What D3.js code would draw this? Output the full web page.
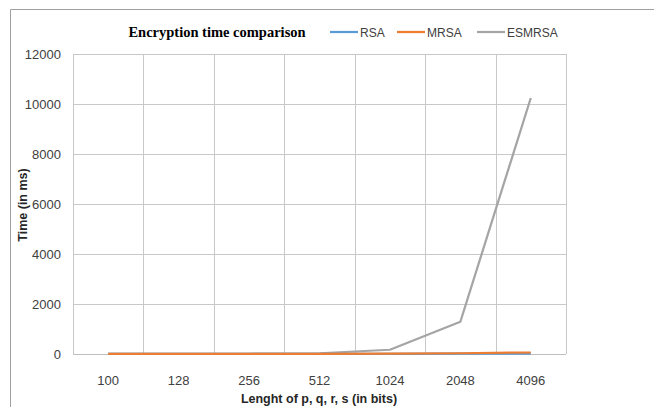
<!DOCTYPE html>
<html><head><meta charset="utf-8">
<script src="https://cdn.jsdelivr.net/npm/d3@7"></script>
<style>body{margin:0;background:#fff}svg{display:block}</style>
</head><body>
<script>
const categories = ["100","128","256","512","1024","2048","4096"];
const rsa = [1, 1, 2, 4, 8, 15, 20];
const mrsa = [1, 2, 3, 6, 15, 30, 60];
const esmrsa = [2, 4, 10, 30, 170, 1290, 10240];
const yTicks = [0,2000,4000,6000,8000,10000,12000];
const seriesNames = ["RSA","MRSA","ESMRSA"];
const colors = ["#5b9bd5","#ed7d31","#a5a5a5"];

const W=654,H=407;
const svg=d3.select("body").append("svg").attr("width",W).attr("height",H);
// outer frame
svg.append("line").attr("x1",10.5).attr("x2",W).attr("y1",9.5).attr("y2",9.5).attr("stroke","#a0a0a0");
svg.append("line").attr("x1",10.5).attr("x2",10.5).attr("y1",9.5).attr("y2",H).attr("stroke","#a0a0a0");

const L=73,R=566,T=54,B=354;
const x=d3.scaleBand().domain(categories).range([L,R]).padding(0);
const y=d3.scaleLinear().domain([0,12000]).range([B,T]);
const g=svg.append("g");
// horizontal grid
g.selectAll(".hg").data(yTicks).join("line")
 .attr("x1",L).attr("x2",R).attr("y1",d=>Math.round(y(d))+0.5).attr("y2",d=>Math.round(y(d))+0.5)
 .attr("stroke",d=>d===0?"#bfbfbf":"#c8c8c8").attr("stroke-width",1);
// vertical grid at boundaries
const bounds=categories.map(c=>x(c)).concat([R]);
g.selectAll(".vg").data(bounds).join("line")
 .attr("x1",d=>Math.round(d)+0.5).attr("x2",d=>Math.round(d)+0.5).attr("y1",T).attr("y2",B)
 .attr("stroke","#c8c8c8");
// y axis labels
const ya=d3.axisLeft(y).tickValues(yTicks).tickSize(0).tickPadding(12).tickFormat(d3.format("d"));
const yg=svg.append("g").attr("transform",`translate(${L},0)`).call(ya);
yg.select(".domain").remove();
yg.selectAll("text").attr("font-family","Liberation Sans, Arial").attr("font-size","13px").attr("fill","#404040");
// x axis labels
const xa=d3.axisBottom(x).tickSize(0).tickPadding(22);
const xg=svg.append("g").attr("transform",`translate(0,${B})`).call(xa);
xg.select(".domain").remove();
xg.selectAll("text").attr("font-family","Liberation Sans, Arial").attr("font-size","13px").attr("fill","#404040");

// lines
const allSeries=[rsa,mrsa,esmrsa];
const line=d3.line().x((d,i)=>x(categories[i])+x.bandwidth()/2).y(d=>y(d));
[2,0,1].forEach(k=>{
  svg.append("path").datum(allSeries[k]).attr("d",line).attr("fill","none")
   .attr("stroke",colors[k]).attr("stroke-width",2.25).attr("stroke-linejoin","round");
});

// title
svg.append("text").attr("x",217).attr("y",37).attr("text-anchor","middle")
 .attr("font-family","Liberation Serif, Times New Roman, serif").attr("font-weight","bold").attr("font-size","14.5px")
 .attr("fill","#000").text("Encryption time comparison");
// legend
const legX=[330,397,477];
seriesNames.forEach((n,i)=>{
  svg.append("line").attr("x1",legX[i]).attr("x2",legX[i]+28).attr("y1",32).attr("y2",32)
   .attr("stroke",colors[i]).attr("stroke-width",2.25);
  svg.append("text").attr("x",legX[i]+30).attr("y",36.5).attr("font-family","Liberation Sans, Arial")
   .attr("font-size","12px").attr("fill","#404040").text(n);
});
// axis titles
svg.append("text").attr("x",319).attr("y",403).attr("text-anchor","middle")
 .attr("font-family","Liberation Sans, Arial").attr("font-weight","bold").attr("font-size","12.5px")
 .attr("fill","#262626").text("Lenght of p, q, r, s (in bits)");
svg.append("text").attr("transform","translate(27,205) rotate(-90)").attr("text-anchor","middle")
 .attr("font-family","Liberation Sans, Arial").attr("font-weight","bold").attr("font-size","12.5px")
 .attr("fill","#262626").text("Time (in ms)");
</script>
</body></html>
